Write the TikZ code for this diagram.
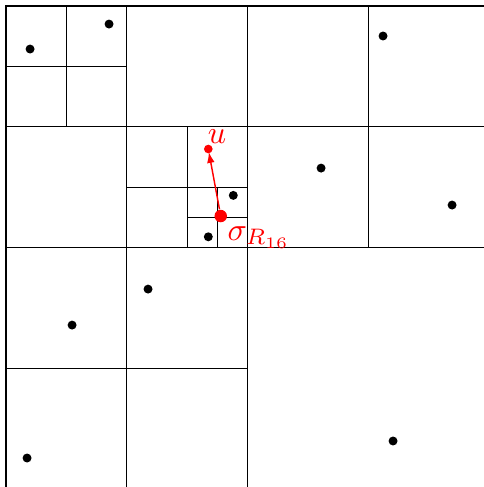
\documentclass[tikz,border=0pt]{standalone}
\usepackage{amsmath,amssymb}
\usepackage{xcolor}
\usetikzlibrary{arrows.meta,positioning}

\begin{document}
\begin{tikzpicture}[
  x=37.73pt, y=-37.73pt,
  pt/.style ={circle, fill=black, inner sep=0pt, minimum size=2.8pt},
  qpt/.style={circle, fill=red, inner sep=0pt, minimum size=2.7pt},
  spt/.style={circle, fill=red, inner sep=0pt, minimum size=3.9pt},
  lbl/.style={red, inner sep=0pt},
  >={Latex[length=3.4pt, width=2.4pt]}]
\clip (-0.05,-0.05) rectangle (3.958,3.983);
% quadtree cells
\draw (0,0) rectangle (4,4);
\draw (2,0) -- (2,4) (0,2) -- (4,2);
\draw (1,0) -- (1,2) (0,1) -- (2,1);
\draw (3,0) -- (3,2) (2,1) -- (4,1);
\draw (1,2) -- (1,4) (0,3) -- (2,3);
\draw (0.5,0) -- (0.5,1) (0,0.5) -- (1,0.5);
\draw (1.5,1) -- (1.5,2) (1,1.5) -- (2,1.5);
\draw (1.75,1.5) -- (1.75,2) (1.5,1.75) -- (2,1.75);
% points
\node[pt] (p1)  at (0.199,0.356) {};
\node[pt] (p2)  at (0.853,0.149) {};
\node[pt] (p3)  at (3.122,0.248) {};
\node[pt] (p4)  at (2.609,1.342) {};
\node[pt] (p5)  at (3.694,1.648) {};
\node[pt] (p6)  at (1.882,1.568) {};
\node[pt] (p7)  at (1.675,1.911) {};
\node[pt] (p8)  at (1.176,2.344) {};
\node[pt] (p9)  at (0.547,2.642) {};
\node[pt] (p10) at (0.174,3.743) {};
\node[pt] (p11) at (3.205,3.602) {};
% query point and representative
\node[qpt] (u)   at (1.675,1.184) {};
\node[spt] (sig) at (1.778,1.739) {};
\draw[->, red, line width=0.45pt, shorten >=-0.6pt] (sig) -- (u);
\node[lbl, anchor=base west] (ulbl) at (1.667,1.137) {$u$};
\node[lbl, anchor=base west] (slbl) at (1.830,1.938) {$\sigma_{R_{16}}$};
\end{tikzpicture}
\end{document}
